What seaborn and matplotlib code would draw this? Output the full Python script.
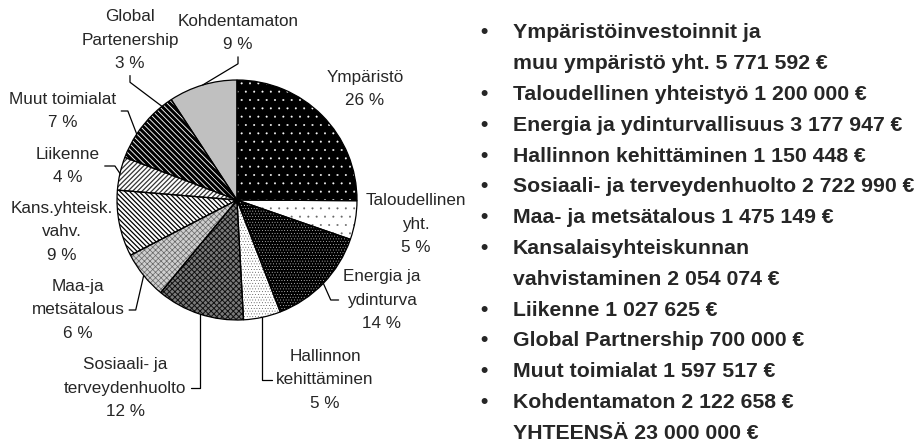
import numpy as np
import seaborn as sns
import matplotlib.pyplot as plt

# pie slices, clockwise from 12 o'clock
slice_names = ["Ympäristö", "Taloudellinen\nyht.", "Energia ja\nydinturva",
               "Hallinnon\nkehittäminen", "Sosiaali- ja\nterveydenhuolto",
               "Maa-ja\nmetsätalous", "Kans.yhteisk.\nvahv.", "Liikenne",
               "Muut toimialat", "Global\nPartenership", "Kohdentamaton"]
slice_values = [5771592, 1200000, 3177947, 1150448, 2722990, 1475149,
                2054074, 1027625, 1597517, 700000, 2122658]
slice_pct = ["26 %", "5 %", "14 %", "5 %", "12 %", "6 %", "9 %", "4 %",
             "7 %", "3 %", "9 %"]

# bullet list on the right
bullet_items = ["Ympäristöinvestoinnit ja\nmuu ympäristö yht. 5 771 592 €",
                "Taloudellinen yhteistyö 1 200 000 €",
                "Energia ja ydinturvallisuus 3 177 947 €",
                "Hallinnon kehittäminen 1 150 448 €",
                "Sosiaali- ja terveydenhuolto 2 722 990 €",
                "Maa- ja metsätalous 1 475 149 €",
                "Kansalaisyhteiskunnan\nvahvistaminen 2 054 074 €",
                "Liikenne 1 027 625 €",
                "Global Partnership 700 000 €",
                "Muut toimialat 1 597 517 €",
                "Kohdentamaton 2 122 658 €"]
total_line = "YHTEENSÄ 23 000 000 €"

# fill style per slice: face colour, hatch, hatch colour, hatch width
slice_styles = [("black", "..", "white", 0.2),
                ("white", "..", "#666666", 0.2),
                ("black", "......", "white", 0.2),
                ("white", "......", "#222222", 0.2),
                ("#7a7a7a", "xxxxxx", "#111111", 0.7),
                ("#cfcfcf", "xxxxxx", "#666666", 0.5),
                ("white", "\\\\\\\\\\\\\\", "black", 0.9),
                ("white", "///////", "#333333", 0.9),
                ("white", "\\\\\\\\\\\\", "black", 2.2),
                ("white", "\\\\\\\\\\\\", "black", 2.2),
                ("#c0c0c0", "", "#c0c0c0", 1.0)]

# label centres in pixels (y from top) and leader line shapes
label_pos = [(365, 89), (416, 224), (382, 300), (325, 380), (125, 388),
             (78, 310), (62, 232), (68, 166), (63, 111), (130, 40), (238, 33)]
label_conn = [None, None,
              "angle,angleA=0,angleB=-66,rad=0",
              "angle,angleA=0,angleB=90,rad=0",
              "angle,angleA=0,angleB=90,rad=0",
              "angle,angleA=0,angleB=77,rad=0",
              None,
              "angle,angleA=0,angleB=-56,rad=0",
              "angle,angleA=0,angleB=-69,rad=0",
              "angle,angleA=90,angleB=-37,rad=0",
              "angle,angleA=90,angleB=31,rad=0"]

sns.set_style("white")
plt.rcParams['font.family'] = ['Liberation Sans', 'DejaVu Sans']
plt.rcParams['hatch.linewidth'] = 1.0

W, H = 919, 445
fig = plt.figure(figsize=(W / 100, H / 100), dpi=100)
ax = fig.add_axes([0, 0, 1, 1])
cx, cy, r = 237, H - 200, 120

# hatched fills
fills, _ = ax.pie(slice_values, startangle=90, counterclock=False,
                  center=(cx, cy), radius=r, frame=True,
                  wedgeprops=dict(linewidth=0))
for w, (fc, hatch, hc, hlw) in zip(fills, slice_styles):
    w.set_facecolor(fc)
    w.set_edgecolor(hc)
    w.set_hatch(hatch)
    if hasattr(w, "set_hatch_linewidth"):
        w.set_hatch_linewidth(hlw)

# outlines
outlines, _ = ax.pie(slice_values, startangle=90, counterclock=False,
                     center=(cx, cy), radius=r, frame=True,
                     wedgeprops=dict(fill=False, edgecolor="black", linewidth=0.9))

for w, name, pct, pos, conn in zip(outlines, slice_names, slice_pct,
                                   label_pos, label_conn):
    label = f"{name}\n{pct}"
    x, y = pos[0], H - pos[1]
    if conn is None:
        ax.text(x, y, label, ha="center", va="center", fontsize=12.3,
                linespacing=1.7)
    else:
        mid = np.deg2rad((w.theta1 + w.theta2) / 2)
        xy = (cx + r * np.cos(mid), cy + r * np.sin(mid))
        ax.annotate(label, xy=xy, xytext=(x, y), ha="center", va="center",
                    fontsize=12.3, linespacing=1.7,
                    arrowprops=dict(arrowstyle="-", connectionstyle=conn,
                                    shrinkA=1, shrinkB=0, lw=0.9,
                                    color="black"))

# bullet list
row = 0
y0, dy = 33, 30.8
for item in bullet_items:
    for j, line in enumerate(item.split("\n")):
        yy = H - (y0 + row * dy)
        if j == 0:
            ax.text(480, yy, "•", ha="left", va="center", fontsize=15,
                    fontweight="bold")
        ax.text(513, yy, line, ha="left", va="center", fontsize=15.3,
                fontweight="bold")
        row += 1
ax.text(513, H - (y0 + row * dy), total_line, ha="left", va="center",
        fontsize=15.3, fontweight="bold")

ax.set_xlim(0, W)
ax.set_ylim(0, H)
ax.set_axis_off()

fig.savefig("out.png", dpi=100)
